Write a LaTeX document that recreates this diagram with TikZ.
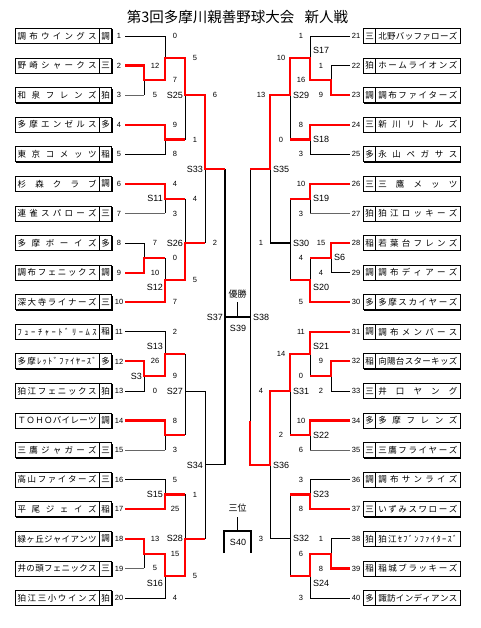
\documentclass[tikz,border=0pt]{standalone}
\usepackage{fontspec}
\setmainfont{Liberation Sans}
\newfontfamily\jp{Noto Sans CJK JP}
\usetikzlibrary{shadows}
% spread the characters of a name over a fixed width
\def\sprEnd{\sprEnd}
\def\sprA#1{#1\sprB}
\def\sprB#1{\ifx\sprEnd#1\else\hfill#1\expandafter\sprB\fi}
\newcommand\spr[2]{\hbox to #1{\sprA#2\sprEnd}}
\tikzset{
  blk/.style={line width=0.9pt, draw=black},
  gry/.style={line width=0.8pt, draw=black!60},
  thk/.style={line width=1.4pt, draw=black},
  win/.style={line width=2.2pt, draw=red, line join=miter},
  namebox/.style={draw, fill=white, line width=0.8pt, minimum width=84.3pt, minimum height=15pt, inner sep=0pt,
    font=\jp\fontsize{8.5}{9}\selectfont,
    drop shadow={shadow xshift=0.9pt, shadow yshift=-0.9pt, fill=black, opacity=1}},
  prefbox/.style={draw, fill=white, line width=0.8pt, minimum width=12.4pt, minimum height=15pt, inner sep=0pt,
    font=\jp\fontsize{8.5}{9}\selectfont,
    drop shadow={shadow xshift=0.9pt, shadow yshift=-0.9pt, fill=black, opacity=1}},
  numtxt/.style={inner sep=0pt, font=\fontsize{7.5}{8}\selectfont},
  sc/.style={inner sep=0pt, font=\fontsize{7.5}{8}\selectfont},
  lab/.style={inner sep=0pt, font=\fontsize{9}{10}\selectfont},
  ttl/.style={inner sep=0pt, font=\jp\fontsize{14.5}{16}\selectfont},
  cjklab/.style={inner sep=0pt, font=\jp\fontsize{9}{10}\selectfont}
}
\newcommand\lteam[4]{%
  \node[namebox] (ln#2) at (57.15,#1) {\spr{79pt}{#3}};
  \node[prefbox] (lp#2) at (105.5,#1) {#4};
  \node[numtxt] (lno#2) at (119,#1) {#2};
}
\newcommand\rteam[4]{%
  \node[prefbox] (rp#2) at (369.5,#1) {#4};
  \node[namebox] (rn#2) at (417.85,#1) {\spr{79pt}{#3}};
  \node[numtxt] (rno#2) at (356,#1) {#2};
}
\begin{document}
\begin{tikzpicture}[x=1pt,y=-1pt]
\fill[white] (0,0) rectangle (480,628);
\useasboundingbox (0,0) rectangle (480,628);
\node[ttl] (title) at (237.5,17) {第3回多摩川親善野球大会\hspace{0.7em}新人戦};

\begin{scope}[yshift=-36pt, y=-14.79pt]
% ---------- teams ----------
\lteam{0}{1}{調布ウイングス}{調}
\lteam{2}{2}{野崎シャークス}{三}
\lteam{4}{3}{和泉フレンズ}{狛}
\lteam{6}{4}{多摩エンゼルス}{多}
\lteam{8}{5}{東京コメッツ}{稲}
\lteam{10}{6}{杉森クラブ}{調}
\lteam{12}{7}{連雀スパローズ}{三}
\lteam{14}{8}{多摩ボーイズ}{多}
\lteam{16}{9}{調布フェニックス}{調}
\lteam{18}{10}{深大寺ライナーズ}{三}
\lteam{20}{11}{ﾌｭｰﾁｬｰﾄﾞﾘｰﾑｽ}{稲}
\lteam{22}{12}{多摩ﾚｯﾄﾞﾌｧｲﾔｰｽﾞ}{多}
\lteam{24}{13}{狛江フェニックス}{狛}
\lteam{26}{14}{ＴＯＨＯバイレーツ}{調}
\lteam{28}{15}{三鷹ジャガーズ}{三}
\lteam{30}{16}{高山ファイターズ}{三}
\lteam{32}{17}{平尾ジェイズ}{稲}
\lteam{34}{18}{緑ヶ丘ジャイアンツ}{調}
\lteam{36}{19}{井の頭フェニックス}{三}
\lteam{38}{20}{狛江三小ウインズ}{狛}

\rteam{0}{21}{北野バッファローズ}{三}
\rteam{2}{22}{ホームライオンズ}{狛}
\rteam{4}{23}{調布ファイターズ}{調}
\rteam{6}{24}{新川リトルズ}{三}
\rteam{8}{25}{永山ペガサス}{多}
\rteam{10}{26}{三鷹メッツ}{三}
\rteam{12}{27}{狛江ロッキーズ}{狛}
\rteam{14}{28}{若葉台フレンズ}{稲}
\rteam{16}{29}{調布ディアーズ}{調}
\rteam{18}{30}{多摩スカイヤーズ}{多}
\rteam{20}{31}{調布メンバース}{調}
\rteam{22}{32}{向陽台スターキッズ}{稲}
\rteam{24}{33}{井口ヤング}{三}
\rteam{26}{34}{多摩フレンズ}{多}
\rteam{28}{35}{三鷹フライヤーズ}{三}
\rteam{30}{36}{調布サンライズ}{調}
\rteam{32}{37}{いずみスワローズ}{三}
\rteam{34}{38}{狛江ｾﾌﾞﾝﾌｧｲﾀｰｽﾞ}{狛}
\rteam{36}{39}{稲城ブラッキーズ}{稲}
\rteam{38}{40}{諏訪インディアンス}{多}

% ---------- black lines, left ----------
\draw[blk] (125,0) -- (165,0) -- (165,1.5);
\draw[gry] (125,4) -- (144,4);
\draw[blk] (144,3) -- (144,4);
\draw[blk] (125,8) -- (165,8) -- (165,7);
\draw[blk] (185,4) -- (185,7);
\draw[gry] (125,12) -- (165,12);
\draw[blk] (165,11) -- (165,12);
\draw[blk] (125,14) -- (144,14) -- (144,15);
\draw[blk] (165,15) -- (165,16.5);
\draw[blk] (185,11) -- (185,14);
\draw[blk] (205,9) -- (205,14);
\draw[blk] (125,20) -- (165,20) -- (165,21.5);
\draw[blk] (125,24) -- (144,24) -- (144,23);
\draw[gry] (125,28) -- (165,28);
\draw[blk] (165,27) -- (165,28);
\draw[blk] (185,21.5) -- (185,27);
\draw[blk] (185,24) -- (205,24);
\draw[blk] (125,30) -- (165,30) -- (165,31);
\draw[gry] (125,36) -- (144,36);
\draw[blk] (144,35) -- (144,36);
\draw[blk] (125,38) -- (165,38) -- (165,36.5);
\draw[blk] (185,31) -- (185,34);
\draw[blk] (205,24) -- (205,34);
\draw[blk] (205,29) -- (225,29);
\draw[thk] (225,9) -- (225,29);
\draw[thk] (225,19) -- (250,19);

% ---------- black lines, right ----------
\draw[blk] (350,0) -- (310,0) -- (310,1.5);
\draw[blk] (350,2) -- (331,2) -- (331,3);
\draw[blk] (350,8) -- (310,8) -- (310,7);
\draw[blk] (290,4) -- (290,7);
\draw[gry] (350,12) -- (310,12);
\draw[blk] (310,11) -- (310,12);
\draw[blk] (350,16) -- (331,16) -- (331,15);
\draw[blk] (310,15) -- (310,16.5);
\draw[blk] (290,11) -- (290,16.5);
\draw[thk] (290,14) -- (270,14);
\draw[blk] (270,9) -- (270,14);
\draw[blk] (310,21.5) -- (310,23);
\draw[blk] (350,24) -- (331,24) -- (331,23);
\draw[gry] (350,28) -- (310,28);
\draw[blk] (310,27) -- (310,28);
\draw[blk] (290,24) -- (290,27);
\draw[blk] (350,30) -- (310,30) -- (310,31);
\draw[blk] (350,34) -- (331,34) -- (331,35);
\draw[blk] (350,38) -- (310,38) -- (310,36.5);
\draw[blk] (290,31) -- (290,36.5);
\draw[blk] (290,34) -- (270,34);
\draw[blk] (270,29) -- (270,34);
\draw[blk] (250,9) -- (250,29);

% ---------- winners' paths, left ----------
\draw[win] (125,2) -- (144,2) -- (144,3) -- (165,3) -- (165,1.5) -- (185,1.5) -- (185,4) -- (205,4) -- (205,9) -- (225,9);
\draw[win] (125,6) -- (165,6) -- (165,7) -- (185,7);
\draw[win] (125,10) -- (165,10) -- (165,11) -- (185,11);
\draw[win] (125,16) -- (144,16) -- (144,15) -- (165,15);
\draw[win] (125,18) -- (165,18) -- (165,16.5) -- (185,16.5) -- (185,14) -- (205,14);
\draw[win] (125,22) -- (144,22) -- (144,23) -- (165,23) -- (165,21.5) -- (185,21.5);
\draw[win] (125,26) -- (165,26) -- (165,27) -- (185,27);
\draw[win] (125,32) -- (165,32) -- (165,31) -- (185,31);
\draw[win] (125,34) -- (144,34) -- (144,35) -- (165,35) -- (165,36.5) -- (185,36.5) -- (185,34) -- (205,34);

% ---------- winners' paths, right ----------
\draw[win] (350,4) -- (331,4) -- (331,3) -- (310,3) -- (310,1.5) -- (290,1.5) -- (290,4) -- (270,4) -- (270,9) -- (250,9);
\draw[win] (350,6) -- (310,6) -- (310,7) -- (290,7);
\draw[win] (350,10) -- (310,10) -- (310,11) -- (290,11);
\draw[win] (350,14) -- (331,14) -- (331,15) -- (310,15);
\draw[win] (350,18) -- (310,18) -- (310,16.5) -- (290,16.5);
\draw[win] (350,20) -- (310,20) -- (310,21.5) -- (290,21.5) -- (290,24) -- (270,24) -- (270,29) -- (250,29) -- (250,26);
\draw[win] (350,22) -- (331,22) -- (331,23) -- (310,23);
\draw[win] (350,26) -- (310,26) -- (310,27) -- (290,27);
\draw[win] (350,32) -- (310,32) -- (310,31) -- (290,31);
\draw[win] (350,36) -- (331,36) -- (331,35) -- (310,35) -- (310,36.5) -- (290,36.5);

% ---------- scores ----------
\foreach \x/\k/\t [count=\i] in {155/2/12, 155/4/5, 155/14/7, 155/16/10, 155/22/26, 155/24/0, 155/34/13, 155/36/5,
  175/0/0, 175/3/7, 175/6/9, 175/8/8, 175/10/4, 175/12/3, 175/15/0, 175/18/7, 175/20/2, 175/23/9, 175/26/8, 175/28/3,
  175/30/5, 175/32/25, 175/35/15, 175/38/4,
  195/1.5/5, 195/7/1, 195/11/4, 195/16.5/5, 195/31/1, 195/36.5/5,
  215/4/6, 215/14/2,
  321/2/1, 321/4/9, 321/14/15, 321/16/4, 321/22/9, 321/24/2, 321/34/1, 321/36/8,
  301/0/1, 301/3/16, 301/6/8, 301/8/3, 301/10/10, 301/12/3, 301/15/4, 301/18/5, 301/20/11, 301/23/0,
  301/26/10, 301/28/6, 301/30/3, 301/32/8, 301/35/6, 301/38/3,
  281/1.5/10, 281/7/0, 281/21.5/14, 281/27/2,
  261/4/13, 261/14/1, 261/24/4, 261/34/3}
  \node[sc] (score\i) at (\x,\k) {\t};

% ---------- match labels ----------
\foreach \x/\k/\t in {183/4/S25, 163/11/S11, 163/17/S12, 183/14/S26, 203/9/S33, 163/21/S13, 142/23/S3,
  183/24/S27, 203/29/S34, 163/31/S15, 183/34/S28, 163/37/S16, 223/19/S37}
  \node[lab, anchor=east] (lab\t) at (\x,\k) {\t};
\foreach \x/\k/\t in {313/1/S17, 293/4/S29, 313/7/S18, 273/9/S35, 313/11/S19, 293/14/S30, 334/15/S6,
  313/17/S20, 253/19/S38, 313/21/S21, 293/24/S31, 313/27/S22, 273/29/S36, 313/31/S23, 293/34/S32, 313/37/S24}
  \node[lab, anchor=west] (lab\t) at (\x,\k) {\t};
\end{scope}

% ---------- centre ----------
\node[cjklab] (champ) at (237.5,294) {優勝};
\draw[blk] (champ.south |- 0,302) -- (237.5,317);
\node[lab] (s39) at (238,328) {S39};
\node[cjklab] (third) at (237.5,508) {三位};
\coordinate (s40top) at (237.5,531);
\draw[blk] (237.5,517) -- (s40top);
\draw[line width=1.3pt] (224,553) -- (224,531) -- (251,531) -- (251,553);
\node[lab] (s40) at (238,542) {S40};
\end{tikzpicture}
\end{document}
